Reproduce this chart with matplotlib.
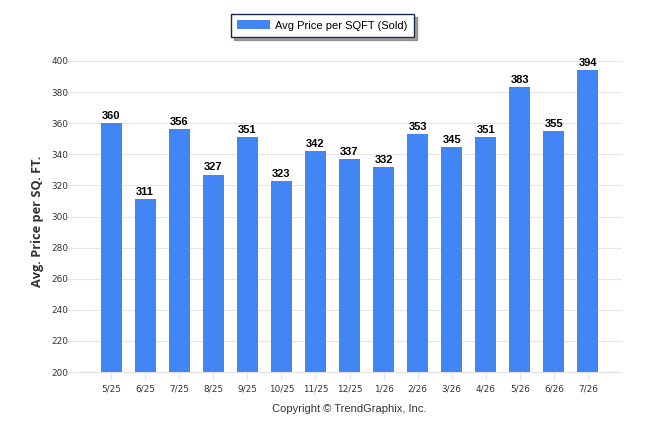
import matplotlib
matplotlib.use("Agg")
import matplotlib.pyplot as plt
import numpy as np

months = ["5/25", "6/25", "7/25", "8/25", "9/25", "10/25", "11/25", "12/25",
          "1/26", "2/26", "3/26", "4/26", "5/26", "6/26", "7/26"]
values = [360, 311, 356, 327, 351, 323, 342, 337, 332, 353, 345, 351, 383, 355, 394]
y_ticks = list(range(200, 401, 20))
series_name = "Avg Price per SQFT (Sold)"

plt.rcParams['font.family'] = ['Liberation Sans', 'DejaVu Sans']

fig = plt.figure(figsize=(6.46, 4.34), dpi=100)
ax = fig.add_axes([77/646, 1-372/434, (622-77)/646, (372-61)/434])

x = np.arange(len(months))
bars = ax.bar(x, values, width=0.62, color="#4285f4", zorder=3, label=series_name)
for xi, v in zip(x, values):
    ax.text(xi, v + 1.3, str(v), ha="center", va="bottom", fontsize=8,
            fontweight="bold", color="#000000", zorder=4)

ax.set_xlim(-1, len(months))
ax.set_ylim(200, 400)
ax.set_yticks(y_ticks)
ax.set_yticklabels([str(t) for t in y_ticks], fontsize=6.4, color="#333333",
                   family=["DejaVu Sans"])
ax.set_xticks(x)
ax.set_xticklabels(months, fontsize=6.4, color="#333333", family=["DejaVu Sans"])
ax.grid(axis="y", color="#e6e6e6", linewidth=0.8, zorder=0)
for s in ["top", "right", "left"]:
    ax.spines[s].set_visible(False)
ax.spines["bottom"].set_color("#e0e0e0")
ax.spines["bottom"].set_linewidth(0.8)
ax.tick_params(axis="y", length=8, color="#e6e6e6", width=0.8, pad=-1.5)
ax.tick_params(axis="x", length=5, color="#e0e0e0", width=0.8, pad=4)

ax.set_ylabel("Avg. Price per SQ. FT.", fontsize=9.2, fontweight="bold",
              color="#333333", family=["Open Sans", "DejaVu Sans"])
ax.yaxis.set_label_coords(-0.06, 0.485)

fig.text(349.5/646, 1-409/434, "Copyright \u00a9 TrendGraphix, Inc.", ha="center",
         va="center", fontsize=8, color="#333333")

leg = fig.legend(handles=[bars], labels=[series_name], loc="center",
                 bbox_to_anchor=(322.5/646, 1-25.5/434), fontsize=8, frameon=True,
                 fancybox=False, shadow=True, edgecolor="#1a2a4a",
                 handlelength=2.9, handleheight=0.8, borderpad=0.6,
                 handletextpad=0.5)
leg.get_frame().set_linewidth(1.0)

fig.savefig("out.png", dpi=100)
